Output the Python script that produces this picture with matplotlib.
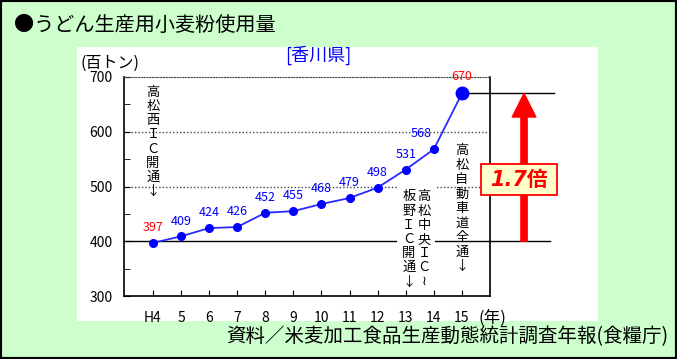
import matplotlib
matplotlib.use("Agg")
import matplotlib.pyplot as plt
import matplotlib.transforms as mtransforms
from matplotlib.patches import Rectangle, FancyArrowPatch

plt.rcParams['font.family'] = ['Noto Sans CJK JP', 'DejaVu Sans']

# データ
years = ["H4", "5", "6", "7", "8", "9", "10", "11", "12", "13", "14", "15"]
usage = [397, 409, 424, 426, 452, 455, 468, 479, 498, 531, 568, 670]
label_colors = ["red"] + ["blue"] * 10 + ["red"]
label_dx = [0, 0, 0, 0, 0, 0, 0, 0, 0, 0, -9, 0]

W, H = 677, 359
fig = plt.figure(figsize=(W / 100, H / 100), dpi=100)
fig.patch.set_facecolor("#ccffcc")


def fx(px):
    return px / W


def fy(py):
    return 1 - py / H


# white panel + outer border
fig.patches.append(Rectangle((fx(77), fy(321)), fx(598) - fx(77), fy(47) - fy(321),
                             transform=fig.transFigure, facecolor="white",
                             edgecolor="none", zorder=-5))
fig.patches.append(Rectangle((0, 0), 1, 1, transform=fig.transFigure, fill=False,
                             edgecolor="black", lw=3, zorder=10))

ax = fig.add_axes([fx(124), fy(296), fx(490) - fx(124), fy(77) - fy(296)])
ax.set_zorder(1)
ax.set_facecolor("white")
x = list(range(len(years)))
ax.set_xlim(-1.03, 12.0)
ax.set_ylim(300, 700)

# grid lines
for v in (500, 600):
    ax.axhline(v, color="#444444", lw=1, ls=(0, (1, 1.5)), zorder=1)
ax.spines["top"].set_linestyle((0, (1, 1.5)))
ax.spines["top"].set_color("#444444")
blend = mtransforms.blended_transform_factory(ax.transAxes, ax.transData)
ax.plot([0, 1.164], [400, 400], color="black", lw=1, transform=blend,
        clip_on=False, zorder=1)
ax.plot([0.943, 1.175], [670, 670], color="black", lw=1, transform=blend,
        clip_on=False, zorder=1)

# white gap behind the IC annotations
ax.add_patch(Rectangle((8.69, 300.5), 1.35, 206, facecolor="white",
                       edgecolor="none", zorder=1.2))

ax.plot(x, usage, color="#2a2aff", lw=1.3, zorder=3)
ax.plot(x[:-1], usage[:-1], "o", color="#0000ff", ms=5.5, zorder=4)
ax.plot(x[-1:], usage[-1:], "o", color="#0000ff", ms=9, zorder=4)

for i, v in enumerate(usage):
    dy = 12.5 if i == len(usage) - 1 else 11
    ax.annotate(str(v), (x[i], v), xytext=(label_dx[i], dy), textcoords="offset points",
                ha="center", va="center", fontsize=9, color=label_colors[i], zorder=5)

ax.set_xticks(x)
ax.set_xticklabels(years)
ax.set_yticks([300, 400, 500, 600, 700])
ax.set_yticks([350, 450, 550, 650], minor=True)
ax.tick_params(axis="both", direction="in", length=4, labelsize=10)
ax.tick_params(axis="y", which="minor", direction="in", length=4)
ax.tick_params(axis="x", pad=11)
ax.tick_params(axis="y", pad=8)
ax.tick_params(top=False, right=False)
for s in ("left", "bottom", "right"):
    ax.spines[s].set_linewidth(1.2)


def vtext(xv, ytop, chars, step=10.2):
    for k, ch in enumerate(chars):
        ax.annotate(ch, (xv, ytop), xytext=(0, -k * step), textcoords="offset points",
                    ha="center", va="center", fontsize=9.5, color="black", zorder=5)


vtext(0, 672, ["高", "松", "西", "Ｉ", "Ｃ", "開", "通", "↓"])
vtext(9.11, 481, ["板", "野", "Ｉ", "Ｃ", "開", "通", "↓"])
vtext(9.65, 481, ["高", "松", "中", "央", "Ｉ", "Ｃ", "≀"])
vtext(11.0, 565, ["高", "松", "自", "動", "車", "道", "全", "通", "↓"], step=10.4)

# 1.7倍 arrow
arrow = FancyArrowPatch((1.093, 400), (1.093, 670), transform=blend,
                        arrowstyle="simple,head_length=17,head_width=17,tail_width=4.5",
                        mutation_scale=1, shrinkA=0, shrinkB=0, color="red",
                        clip_on=False, zorder=2)
fig.patches.append(arrow)
arrow.set_figure(fig)
fig.patches.append(Rectangle((fx(481), fy(195)), fx(557) - fx(481), fy(164) - fy(195),
                             transform=fig.transFigure, facecolor="#ffffcc",
                             edgecolor="red", lw=1.3, zorder=3))
fig.text(fx(519), fy(180), "1.7倍", color="red", fontsize=15, fontweight="bold",
         style="italic", ha="center", va="center",
         family=["DejaVu Sans", "Noto Sans CJK JP"], zorder=4)

# texts
fig.text(fx(14), fy(25), "●うどん生産用小麦粉使用量", fontsize=14.5, ha="left", va="center")
fig.text(fx(318), fy(55), "[香川県]", fontsize=13, color="blue", ha="center", va="center")
fig.text(fx(80), fy(63), "(百トン)", fontsize=11.5, ha="left", va="center")
fig.text(fx(478), fy(318), "(年)", fontsize=12, ha="left", va="center")
fig.text(fx(668), fy(337), "資料／米麦加工食品生産動態統計調査年報(食糧庁)", fontsize=14,
         ha="right", va="center")

fig.savefig("out.png", dpi=100, facecolor=fig.get_facecolor())
